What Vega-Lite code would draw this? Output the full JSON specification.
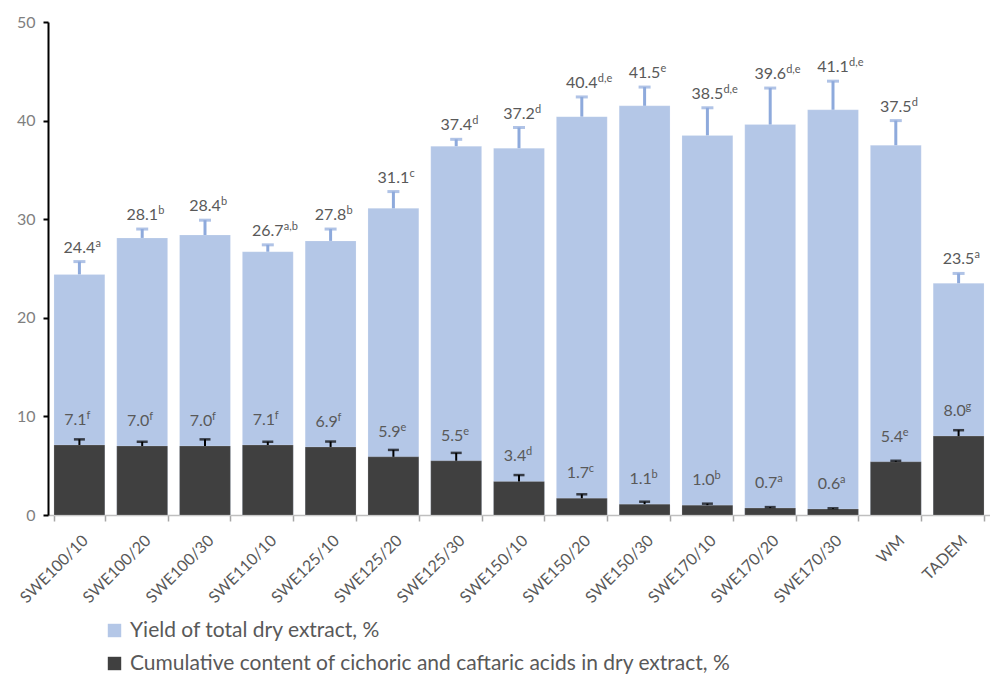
{
  "$schema": "https://vega.github.io/schema/vega-lite/v6.json",
  "width": 942,
  "height": 493,
  "autosize": "none",
  "padding": {"left": 48, "top": 22, "right": 0, "bottom": 162},
  "config": {
    "view": {"stroke": null},
    "font": "Lato",
    "axis": {"grid": false, "labelFont": "Lato"}
  },
  "datasets": {
    "rows": [
      {"sample": "SWE100/10", "series": "Yield of total dry extract, %", "value": 24.4, "hi": 25.7, "sig": "a"},
      {"sample": "SWE100/20", "series": "Yield of total dry extract, %", "value": 28.1, "hi": 29.0, "sig": "b"},
      {"sample": "SWE100/30", "series": "Yield of total dry extract, %", "value": 28.4, "hi": 29.9, "sig": "b"},
      {"sample": "SWE110/10", "series": "Yield of total dry extract, %", "value": 26.7, "hi": 27.4, "sig": "a,b"},
      {"sample": "SWE125/10", "series": "Yield of total dry extract, %", "value": 27.8, "hi": 29.0, "sig": "b"},
      {"sample": "SWE125/20", "series": "Yield of total dry extract, %", "value": 31.1, "hi": 32.8, "sig": "c"},
      {"sample": "SWE125/30", "series": "Yield of total dry extract, %", "value": 37.4, "hi": 38.1, "sig": "d"},
      {"sample": "SWE150/10", "series": "Yield of total dry extract, %", "value": 37.2, "hi": 39.3, "sig": "d"},
      {"sample": "SWE150/20", "series": "Yield of total dry extract, %", "value": 40.4, "hi": 42.4, "sig": "d,e"},
      {"sample": "SWE150/30", "series": "Yield of total dry extract, %", "value": 41.5, "hi": 43.4, "sig": "e"},
      {"sample": "SWE170/10", "series": "Yield of total dry extract, %", "value": 38.5, "hi": 41.3, "sig": "d,e"},
      {"sample": "SWE170/20", "series": "Yield of total dry extract, %", "value": 39.6, "hi": 43.3, "sig": "d,e"},
      {"sample": "SWE170/30", "series": "Yield of total dry extract, %", "value": 41.1, "hi": 44.0, "sig": "d,e"},
      {"sample": "WM", "series": "Yield of total dry extract, %", "value": 37.5, "hi": 40.0, "sig": "d"},
      {"sample": "TADEM", "series": "Yield of total dry extract, %", "value": 23.5, "hi": 24.5, "sig": "a"},
      {"sample": "SWE100/10", "series": "Cumulative content of cichoric and caftaric acids in dry extract, %", "value": 7.1, "hi": 7.67, "sig": "f"},
      {"sample": "SWE100/20", "series": "Cumulative content of cichoric and caftaric acids in dry extract, %", "value": 7.0, "hi": 7.43, "sig": "f"},
      {"sample": "SWE100/30", "series": "Cumulative content of cichoric and caftaric acids in dry extract, %", "value": 7.0, "hi": 7.67, "sig": "f"},
      {"sample": "SWE110/10", "series": "Cumulative content of cichoric and caftaric acids in dry extract, %", "value": 7.1, "hi": 7.43, "sig": "f"},
      {"sample": "SWE125/10", "series": "Cumulative content of cichoric and caftaric acids in dry extract, %", "value": 6.9, "hi": 7.45, "sig": "f"},
      {"sample": "SWE125/20", "series": "Cumulative content of cichoric and caftaric acids in dry extract, %", "value": 5.9, "hi": 6.6, "sig": "e"},
      {"sample": "SWE125/30", "series": "Cumulative content of cichoric and caftaric acids in dry extract, %", "value": 5.5, "hi": 6.3, "sig": "e"},
      {"sample": "SWE150/10", "series": "Cumulative content of cichoric and caftaric acids in dry extract, %", "value": 3.4, "hi": 4.05, "sig": "d"},
      {"sample": "SWE150/20", "series": "Cumulative content of cichoric and caftaric acids in dry extract, %", "value": 1.7, "hi": 2.1, "sig": "c"},
      {"sample": "SWE150/30", "series": "Cumulative content of cichoric and caftaric acids in dry extract, %", "value": 1.1, "hi": 1.35, "sig": "b"},
      {"sample": "SWE170/10", "series": "Cumulative content of cichoric and caftaric acids in dry extract, %", "value": 1.0, "hi": 1.15, "sig": "b"},
      {"sample": "SWE170/20", "series": "Cumulative content of cichoric and caftaric acids in dry extract, %", "value": 0.7, "hi": 0.8, "sig": "a"},
      {"sample": "SWE170/30", "series": "Cumulative content of cichoric and caftaric acids in dry extract, %", "value": 0.6, "hi": 0.68, "sig": "a"},
      {"sample": "WM", "series": "Cumulative content of cichoric and caftaric acids in dry extract, %", "value": 5.4, "hi": 5.5, "sig": "e"},
      {"sample": "TADEM", "series": "Cumulative content of cichoric and caftaric acids in dry extract, %", "value": 8.0, "hi": 8.6, "sig": "g"}
    ]
  },
  "data": {"name": "rows"},
  "encoding": {
    "x": {
      "field": "sample",
      "type": "nominal",
      "sort": null,
      "scale": {"paddingInner": 0.19, "paddingOuter": 0.095},
      "axis": {
        "title": null,
        "labelAngle": -45,
        "labelFontSize": 16,
        "labelColor": "#595959",
        "labelPadding": 11,
        "labelLimit": 200,
        "domainColor": "#bfbfbf",
        "domainWidth": 1.5,
        "tickColor": "#a6a6a6",
        "tickWidth": 1.5,
        "tickSize": 6,
        "tickBand": "extent"
      }
    }
  },
  "layer": [
    {
      "mark": {"type": "bar", "stroke": "#ffffff", "strokeOpacity": 0.35, "strokeWidth": 0.5},
      "encoding": {
        "y": {
          "field": "value",
          "type": "quantitative",
          "stack": null,
          "scale": {"domain": [0, 50], "nice": false},
          "axis": {
            "title": null,
            "values": [0, 10, 20, 30, 40, 50],
            "labelFontSize": 16,
            "labelColor": "#7f7f7f",
            "labelPadding": 8,
            "domainColor": "#000000",
            "domainWidth": 2,
            "tickColor": "#000000",
            "tickWidth": 2,
            "tickSize": 5
          }
        },
        "color": {
          "field": "series",
          "type": "nominal",
          "sort": null,
          "scale": {
            "domain": ["Yield of total dry extract, %", "Cumulative content of cichoric and caftaric acids in dry extract, %"],
            "range": ["#b4c7e7", "#404040"]
          },
          "legend": {
            "title": null,
            "orient": "none",
            "legendX": 56,
            "legendY": 598,
            "direction": "vertical",
            "symbolType": "square",
            "symbolSize": 180,
            "symbolStrokeWidth": 0,
            "labelFontSize": 21,
            "labelColor": "#595959",
            "labelLimit": 900,
            "rowPadding": 11,
            "labelOffset": 5
          }
        }
      }
    },
    {
      "transform": [{"filter": "datum.series == 'Yield of total dry extract, %'"}],
      "mark": {"type": "rule", "color": "#8eaadc", "strokeWidth": 3},
      "encoding": {
        "y": {"field": "value", "type": "quantitative"},
        "y2": {"field": "hi"}
      }
    },
    {
      "transform": [{"filter": "datum.series == 'Yield of total dry extract, %'"}],
      "mark": {"type": "tick", "color": "#8eaadc", "thickness": 3, "size": 12},
      "encoding": {"y": {"field": "hi", "type": "quantitative"}}
    },
    {
      "transform": [{"filter": "datum.series != 'Yield of total dry extract, %'"}],
      "mark": {"type": "rule", "color": "#000000", "strokeWidth": 2},
      "encoding": {
        "y": {"field": "value", "type": "quantitative"},
        "y2": {"field": "hi"}
      }
    },
    {
      "transform": [{"filter": "datum.series != 'Yield of total dry extract, %'"}],
      "mark": {"type": "tick", "color": "#000000", "thickness": 2.5, "size": 11},
      "encoding": {"y": {"field": "hi", "type": "quantitative"}}
    },
    {
      "transform": [{"filter": "datum.series == 'Yield of total dry extract, %'"}],
      "mark": {"type": "text", "fontSize": 16, "color": "#595959", "baseline": "alphabetic", "align": "center", "dy": -9},
      "encoding": {
        "y": {"field": "hi", "type": "quantitative"},
        "text": {"field": "value", "type": "quantitative", "format": ".1f"}
      }
    },
    {
      "transform": [{"filter": "datum.series == 'Yield of total dry extract, %'"}],
      "mark": {"type": "text", "fontSize": 11, "color": "#595959", "baseline": "alphabetic", "align": "left", "dx": 16, "dy": -15},
      "encoding": {
        "y": {"field": "hi", "type": "quantitative"},
        "text": {"field": "sig"}
      }
    },
    {
      "transform": [{"filter": "datum.series != 'Yield of total dry extract, %'"}],
      "mark": {"type": "text", "fontSize": 16, "color": "#595959", "baseline": "alphabetic", "align": "center", "dx": -4, "dy": -20},
      "encoding": {
        "y": {"field": "value", "type": "quantitative"},
        "text": {"field": "value", "type": "quantitative", "format": ".1f"}
      }
    },
    {
      "transform": [{"filter": "datum.series != 'Yield of total dry extract, %'"}],
      "mark": {"type": "text", "fontSize": 11, "color": "#595959", "baseline": "alphabetic", "align": "left", "dx": 7, "dy": -26},
      "encoding": {
        "y": {"field": "value", "type": "quantitative"},
        "text": {"field": "sig"}
      }
    }
  ]
}
